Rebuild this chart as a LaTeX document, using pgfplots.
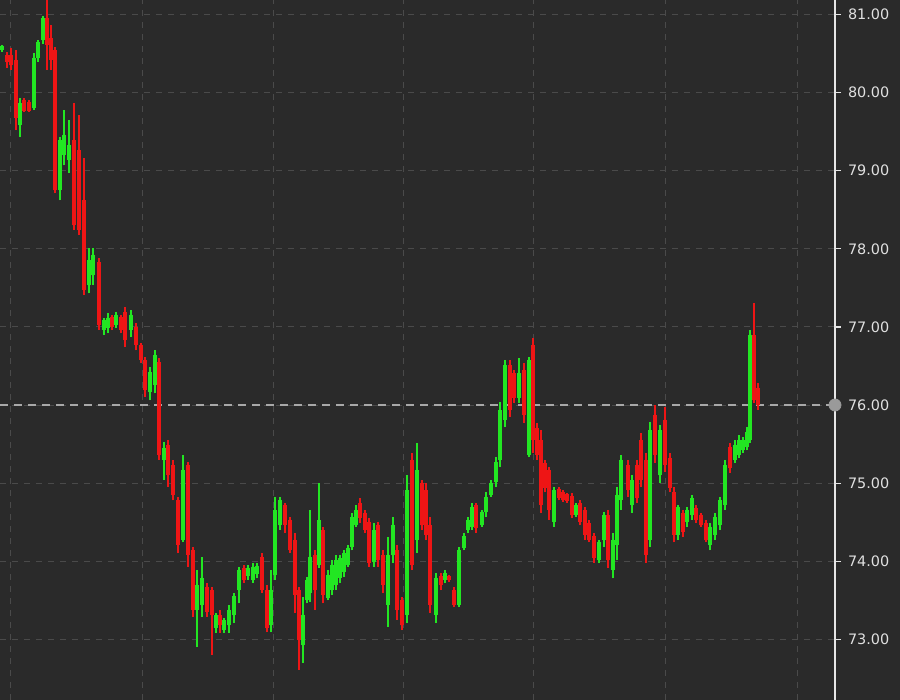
\documentclass[border=0pt]{standalone}
\usepackage{pgfplots}
\pgfplotsset{compat=1.18}
\usepackage{pgfplotstable}
\usepackage{fontspec}
\setmainfont{DejaVu Sans}
\definecolor{bg}{HTML}{2A2A2A}
\definecolor{gcol}{HTML}{22E622}
\definecolor{rcol}{HTML}{EE1515}
\definecolor{gridcol}{HTML}{4A4A4A}
\definecolor{pricecol}{HTML}{A8A8A8}
\definecolor{axiscol}{HTML}{E6E6E6}
\definecolor{labcol}{HTML}{E0E0E0}
\definecolor{dotcol}{HTML}{9A9A9A}

% up candles: x open high low close
\pgfplotstableread{
x o h l c
2 80.55 80.61 80.52 80.60
20 79.59 79.93 79.43 79.87
34 79.80 80.51 79.78 80.44
38 80.44 80.67 80.39 80.65
43 80.67 80.98 80.62 80.96
60 78.75 79.43 78.62 79.39
64 79.20 79.78 79.07 79.46
69 79.14 79.65 78.97 79.33
89 77.54 78.01 77.43 77.86
93 77.66 78.01 77.54 77.92
104 76.96 77.11 76.90 77.09
108 76.99 77.18 76.92 77.11
116 77.03 77.19 76.99 77.15
131 76.96 77.22 76.87 77.15
150 76.17 76.49 76.06 76.42
155 76.26 76.70 76.15 76.64
164 75.30 75.53 75.04 75.45
183 74.27 75.36 74.24 75.17
197 73.38 73.89 72.90 73.70
202 73.44 74.05 73.29 73.78
216 73.15 73.34 73.08 73.31
224 73.12 73.27 73.08 73.25
229 73.18 73.44 73.08 73.38
234 73.31 73.59 73.21 73.56
239 73.63 73.93 73.46 73.89
248 73.81 73.95 73.76 73.91
253 73.76 73.98 73.72 73.93
257 73.83 73.98 73.78 73.94
271 73.18 73.89 73.09 73.63
275 73.82 74.82 73.76 74.66
280 74.46 74.82 74.40 74.78
303 72.93 73.54 72.70 73.31
307 73.50 73.80 73.46 73.76
310 73.59 74.66 73.48 74.05
319 73.95 75.00 73.91 74.53
328 73.53 73.89 73.50 73.82
332 73.63 74.02 73.57 73.95
336 73.70 74.08 73.63 74.02
340 73.79 74.08 73.72 74.04
344 73.86 74.14 73.80 74.11
348 73.95 74.21 73.93 74.17
352 74.18 74.62 74.14 74.57
356 74.46 74.72 74.44 74.66
374 73.99 74.49 73.93 74.40
388 73.44 74.31 73.16 74.08
393 74.08 74.57 73.98 74.46
407 73.31 75.10 73.21 74.91
417 74.27 75.52 74.11 75.17
436 73.31 73.85 73.21 73.79
445 73.76 73.89 73.72 73.85
459 73.44 74.18 73.41 74.14
464 74.17 74.36 74.14 74.32
468 74.40 74.57 74.36 74.53
472 74.44 74.75 74.40 74.69
482 74.46 74.66 74.44 74.63
486 74.63 74.88 74.57 74.82
491 74.85 75.04 74.82 75.00
496 75.02 75.34 74.95 75.27
500 75.30 76.04 75.21 75.94
505 75.81 76.58 75.72 76.51
519 76.09 76.60 76.03 76.41
529 75.36 76.61 75.33 76.58
554 74.50 74.95 74.44 74.91
576 74.59 74.75 74.57 74.72
599 74.02 74.27 73.98 74.24
604 74.27 74.63 74.18 74.59
613 73.89 74.36 73.78 74.27
617 74.21 74.95 74.02 74.85
621 74.78 75.36 74.66 75.30
632 74.72 75.10 74.62 75.04
650 74.27 75.78 74.18 75.68
660 75.10 75.74 75.00 75.68
678 74.34 74.72 74.27 74.69
687 74.50 74.69 74.44 74.66
692 74.59 74.85 74.53 74.81
710 74.21 74.49 74.14 74.44
715 74.34 74.62 74.27 74.57
720 74.46 74.82 74.40 74.78
725 74.72 75.30 74.66 75.23
735 75.30 75.55 75.26 75.49
739 75.36 75.62 75.32 75.55
743 75.42 75.59 75.39 75.55
747 75.46 75.72 75.42 75.65
750 75.55 76.96 75.51 76.90
}\upcandles

% down candles: x open high low close
\pgfplotstableread{
x o h l c
7 80.48 80.52 80.32 80.39
11 80.48 80.57 80.29 80.35
16 80.42 80.55 79.52 79.68
24 79.91 79.93 79.75 79.77
29 79.88 79.91 79.75 79.77
47 80.96 81.18 80.29 80.61
51 80.70 80.87 80.29 80.42
55 80.55 80.58 78.71 78.75
74 79.39 79.87 78.24 78.30
79 79.27 79.71 78.18 78.24
84 78.62 79.16 77.41 77.47
99 77.83 77.88 76.96 77.03
112 77.13 77.15 76.96 77.00
121 77.13 77.15 76.92 76.96
125 77.19 77.25 76.74 76.83
136 77.00 77.05 76.70 76.77
141 76.77 76.79 76.54 76.58
145 76.58 76.61 76.10 76.19
159 76.55 76.60 75.30 75.36
168 75.49 75.55 74.95 75.10
173 75.23 75.30 74.78 74.85
178 74.78 74.82 74.11 74.21
188 75.23 75.27 73.93 74.08
193 74.14 74.18 73.29 73.38
207 73.67 73.72 73.29 73.35
212 73.63 73.67 72.80 73.31
220 73.31 73.38 73.08 73.18
244 73.91 73.95 73.72 73.76
262 74.05 74.11 73.59 73.63
267 73.63 73.70 73.09 73.14
285 74.72 74.75 74.36 74.46
290 74.53 74.57 74.11 74.14
295 74.27 74.36 73.34 73.57
299 73.63 73.67 72.61 72.99
315 74.08 74.14 73.38 73.63
323 74.40 74.44 73.46 73.57
360 74.75 74.81 74.49 74.55
365 74.62 74.66 74.36 74.40
369 74.50 74.55 73.93 73.98
378 74.46 74.50 73.93 74.02
383 74.08 74.14 73.59 73.70
397 74.14 74.21 73.25 73.38
402 73.50 73.54 73.12 73.18
412 75.30 75.39 73.89 73.95
422 75.00 75.04 74.40 74.46
426 74.91 75.00 74.27 74.34
430 74.46 74.57 73.34 73.44
441 73.81 73.85 73.63 73.70
449 73.81 73.82 73.73 73.76
454 73.63 73.67 73.41 73.44
476 74.72 74.75 74.36 74.42
510 76.51 76.58 75.85 75.94
514 76.41 76.45 76.03 76.09
524 76.45 76.54 75.77 75.87
533 76.77 76.86 75.39 75.55
537 75.71 75.77 75.30 75.36
541 75.55 75.68 74.62 74.72
545 75.26 75.30 74.88 74.94
549 75.17 75.21 74.53 74.66
559 74.92 74.95 74.78 74.81
563 74.89 74.91 74.76 74.78
567 74.86 74.87 74.75 74.77
572 74.83 74.87 74.55 74.59
580 74.75 74.78 74.46 74.50
585 74.66 74.69 74.27 74.34
589 74.49 74.53 74.24 74.27
594 74.32 74.36 73.98 74.04
608 74.59 74.66 73.91 74.02
628 75.23 75.30 74.82 74.91
637 75.23 75.30 74.75 74.81
641 75.55 75.64 74.95 75.04
646 75.30 75.39 73.98 74.08
655 75.87 76.00 75.26 75.36
665 75.81 75.97 75.14 75.23
670 75.32 75.39 74.88 74.94
674 74.89 74.95 74.24 74.34
683 74.62 74.66 74.31 74.37
696 74.68 74.72 74.49 74.53
701 74.59 74.62 74.44 74.46
706 74.49 74.53 74.24 74.27
730 75.46 75.51 75.13 75.19
754 76.90 77.31 76.03 76.06
758 76.22 76.28 75.94 76.00
}\downcandles

\begin{document}
\begin{tikzpicture}
\fill[bg] (0,0) rectangle (450pt,350pt);
\begin{axis}[
  at={(0,0)}, anchor=south west,
  scale only axis, width=417.5pt, height=350pt,
  xmin=0, xmax=835, ymin=72.223, ymax=81.186,
  clip=false,
  axis x line*=bottom, axis y line*=right,
  x axis line style={draw=none},
  y axis line style={-, draw=axiscol, line width=1pt},
  xtick={10,142,273,403,533,665,797}, xticklabels={},
  xtick style={draw=none},
  ytick={73,74,...,81},
  ytick pos=right, yticklabel pos=right,
  tick align=outside, major tick length=3pt,
  ytick style={draw=axiscol, line width=0.6pt},
  xmajorgrids, ymajorgrids,
  grid style={draw=gridcol, line width=0.5pt, dash pattern=on 3pt off 3pt},
  /pgf/number format/assume math mode=true,
  yticklabel style={font=\fontsize{7.2}{8.6}\selectfont, text=labcol,
    /pgf/number format/fixed, /pgf/number format/fixed zerofill,
    /pgf/number format/precision=2, /pgf/number format/1000 sep={}},
  candle/.style={draw=none, no markers,
    error bars/.cd, y dir=plus, y explicit, error mark=none},
]
% current price line
\addplot[pricecol, line width=0.6pt, dash pattern=on 4pt off 3pt] coordinates {(0,76) (835,76)};
% up wicks and bodies
\addplot[candle, error bar style={draw=gcol, line width=0.65pt}]
  table[x=x, y=l, y error plus expr=\thisrow{h}-\thisrow{l}] {\upcandles};
\addplot[candle, error bar style={draw=gcol, line width=1.9pt}]
  table[x=x, y=o, y error plus expr=\thisrow{c}-\thisrow{o}] {\upcandles};
% down wicks and bodies
\addplot[candle, error bar style={draw=rcol, line width=0.65pt}]
  table[x=x, y=l, y error plus expr=\thisrow{h}-\thisrow{l}] {\downcandles};
\addplot[candle, error bar style={draw=rcol, line width=1.9pt}]
  table[x=x, y=c, y error plus expr=\thisrow{o}-\thisrow{c}] {\downcandles};
% price marker on axis
\addplot[only marks, mark=*, mark size=3pt, mark options={fill=dotcol, draw=dotcol}] coordinates {(835,76)};
\end{axis}
\pgfresetboundingbox
\useasboundingbox (0,0) rectangle (450pt,350pt);
\end{tikzpicture}
\end{document}
